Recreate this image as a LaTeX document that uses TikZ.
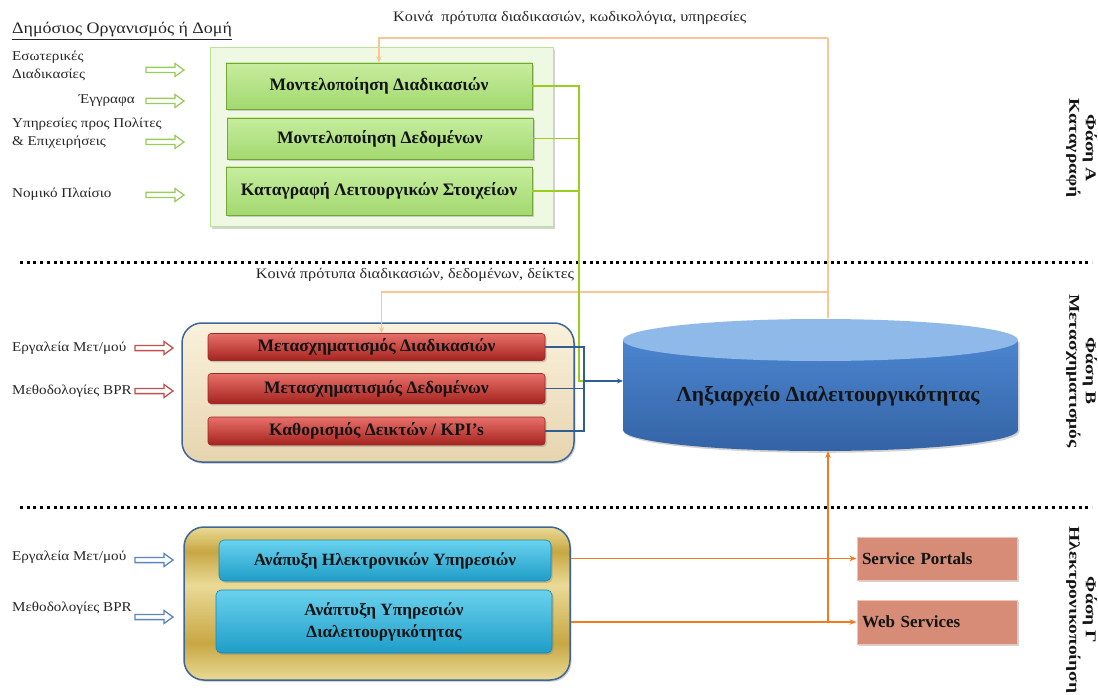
\documentclass[tikz,border=0pt]{standalone}
\usepackage{fontspec}
\setmainfont{Liberation Serif}
\newfontfamily\widefont[FakeStretch=1.12]{Liberation Serif}
\usetikzlibrary{shadows,arrows.meta,calc}

\definecolor{txt}{HTML}{262626}
\definecolor{boxtxt}{HTML}{141414}
\definecolor{gpanel}{HTML}{EEF8E2}
\definecolor{gpanelrule}{HTML}{BDE394}
\definecolor{gtop}{HTML}{C6ED9E}
\definecolor{gbot}{HTML}{A3D970}
\definecolor{grule}{HTML}{74A63A}
\definecolor{glink}{HTML}{9ACD1E}
\definecolor{garrow}{HTML}{9BCB5B}
\definecolor{peach}{HTML}{FBC494}
\definecolor{btop}{HTML}{FAF1DC}
\definecolor{bbot}{HTML}{E6D4AE}
\definecolor{navy}{HTML}{3E6596}
\definecolor{blink}{HTML}{2F5D95}
\definecolor{rtop}{HTML}{E8706A}
\definecolor{rmid}{HTML}{D23C36}
\definecolor{rbot}{HTML}{A5231F}
\definecolor{rrule}{HTML}{9A2A26}
\definecolor{rarrow}{HTML}{C0504D}
\definecolor{barrow}{HTML}{5A86C0}
\definecolor{goldlt}{HTML}{E9DA96}
\definecolor{golddk}{HTML}{C8A743}
\definecolor{ctop}{HTML}{6AD2EE}
\definecolor{cbot}{HTML}{1E9DC8}
\definecolor{crule}{HTML}{1889B2}
\definecolor{salmon}{HTML}{D68C77}
\definecolor{salmonrule}{HTML}{F1C3B3}
\definecolor{cylA}{HTML}{4B85CF}
\definecolor{cylB}{HTML}{3463A5}
\definecolor{cyltop}{HTML}{8FB9E9}
\definecolor{olink}{HTML}{F47A22}

\pgfdeclareverticalshading{goldband}{100bp}{%
  color(0bp)=(goldlt); color(25bp)=(goldlt); color(37bp)=(golddk);
  color(56bp)=(goldlt); color(67bp)=(golddk); color(75bp)=(goldlt);
  color(100bp)=(goldlt)}

\tikzset{
  lab/.style={font=\widefont\fontsize{13.5}{18}\selectfont, text=txt, inner sep=0pt, align=left},
  toplab/.style={font=\widefont\fontsize{14.5}{18}\selectfont, text=txt, inner sep=0pt},
  shade/.style={drop shadow={opacity=0.35, shadow xshift=1.5pt, shadow yshift=-1.8pt}},
  boxfont/.style={font=\bfseries\fontsize{17.5}{21}\selectfont},
  gbox/.style={shade, draw=grule, line width=0.9pt, top color=gtop, bottom color=gbot,
    minimum width=306pt, text=boxtxt, boxfont},
  rbox/.style={shade, draw=rrule, line width=0.6pt, rounded corners=3pt,
    top color=rtop, middle color=rmid, bottom color=rbot,
    minimum width=337pt, text=boxtxt, boxfont},
  cbox/.style={shade, draw=crule, line width=0.6pt, rounded corners=5pt,
    top color=ctop, bottom color=cbot, text=boxtxt, align=center,
    font=\bfseries\fontsize{17.2}{22}\selectfont},
  sbox/.style={shade, draw=salmonrule, line width=1pt, fill=salmon,
    minimum width=160pt, text width=150pt, align=left, inner xsep=5pt,
    text=boxtxt, font=\bfseries\fontsize{17}{19}\selectfont},
  phase/.style={rotate=-90, inner sep=0pt, text=boxtxt,
    font=\bfseries\fontsize{15}{16.5}\selectfont},
  sep/.style={line width=3pt, dash pattern=on 3pt off 3.7pt, black},
  plink/.style={peach, line width=1.6pt, -{Stealth[length=6pt,width=5pt]}},
  gl/.style={glink, line width=1.6pt},
  bl/.style={blink, line width=1.3pt},
  ol/.style={olink, line width=1.6pt, -{Stealth[length=7pt,width=5.5pt]}},
  harrow/.pic={\draw[line width=1.3pt, fill=white, line join=miter]
    (0,-2.6) -- (29,-2.6) -- (29,-6.5) -- (38,0) -- (29,6.5) -- (29,2.6) -- (0,2.6) -- cycle;}
}

\begin{document}
\begin{tikzpicture}[x=1pt,y=-1pt]
\useasboundingbox (0,0) rectangle (1098,695);
\begin{scope}
\clip (0,0) rectangle (1098,695);

% ---------- phase separators
\draw[sep] (20,263) -- (1092,263);
\draw[sep] (20,507) -- (1092,507);

% ---------- phase A: recording
\node[lab, anchor=west, font=\widefont\fontsize{16}{19}\selectfont] (title) at (12,31)
  {\underline{Δημόσιος Οργανισμός ή Δομή}};
\node[lab, anchor=west] (inA1) at (12,66) {Εσωτερικές\\Διαδικασίες};
\node[lab, anchor=east] (inA2) at (135,101) {Έγγραφα};
\node[lab, anchor=west] (inA3) at (12,133) {Υπηρεσίες προς Πολίτες\\\& Επιχειρήσεις};
\node[lab, anchor=west] (inA4) at (12,194) {Νομικό Πλαίσιο};
\pic[garrow] at (146,70) {harrow};
\pic[garrow] at (146,101) {harrow};
\pic[garrow] at (146,142) {harrow};
\pic[garrow] at (146,195) {harrow};

\node[shade, draw=gpanelrule, line width=1pt, fill=gpanel,
  minimum width=343pt, minimum height=179pt] (gout) at (381.5,137.5) {};
\node[gbox, minimum height=46pt] (gm1) at (379,86) {Μοντελοποίηση Διαδικασιών};
\node[gbox, minimum height=41pt] (gm2) at (380,138.5) {Μοντελοποίηση Δεδομένων};
\node[gbox, minimum height=48pt] (gm3) at (379,191) {Καταγραφή Λειτουργικών Στοιχείων};

\node[toplab, anchor=west] (stdA) at (393,18) {Κοινά\ \ πρότυπα διαδικασιών, κωδικολόγια, υπηρεσίες};

\node[phase] (phA) at (1081,148)
  {\scalebox{1.3}[1]{\begin{tabular}{@{}c@{}}Φάση Α\\Καταγραφή\end{tabular}}};

% ---------- phase B: transformation
\node[toplab] (stdB) at (415,275) {Κοινά πρότυπα διαδικασιών, δεδομένων, δείκτες};

\node[lab, anchor=west] (inB1) at (12,348) {Εργαλεία Μετ/μού};
\node[lab, anchor=west] (inB2) at (12,391) {Μεθοδολογίες BPR};
\pic[rarrow] at (135,348) {harrow};
\pic[rarrow] at (135,391) {harrow};

\node[shade, draw=navy, line width=1.5pt, rounded corners=20pt,
  top color=btop, bottom color=bbot,
  minimum width=392pt, minimum height=139pt] (bpanel) at (378,392.5) {};
\node[rbox, minimum height=27pt] (rm1) at (376.5,347) {Μετασχηματισμός Διαδικασιών};
\node[rbox, minimum height=30pt] (rm2) at (376.5,388.5) {Μετασχηματισμός Δεδομένων};
\node[rbox, minimum height=28pt] (rm3) at (376.5,431) {Καθορισμός Δεικτών / KPI’s};

% registry cylinder
\shade[top color=cylA, bottom color=cylB]
  (623,340) -- (623,430) arc[start angle=180, end angle=0, x radius=197.5, y radius=21]
  -- (1018,340) -- cycle;
\fill[cyltop] (820.5,340) ellipse[x radius=197.5, y radius=21];
\node[text=boxtxt, font=\bfseries\fontsize{21.5}{24}\selectfont] (reg) at (828,396)
  {Ληξιαρχείο Διαλειτουργικότητας};
\coordinate (regtop) at (828,318);
\coordinate (regbot) at (828,451);
\coordinate (regleft) at (623,381);

\node[phase] (phB) at (1081,371)
  {\scalebox{1.3}[1]{\begin{tabular}{@{}c@{}}Φάση Β\\Μετασχηματισμός\end{tabular}}};

% ---------- phase C: e-services
\node[lab, anchor=west] (inC1) at (12,557) {Εργαλεία Μετ/μού};
\node[lab, anchor=west] (inC2) at (12,608) {Μεθοδολογίες BPR};
\pic[barrow] at (135,560) {harrow};
\pic[barrow] at (135,617) {harrow};

\node[shade, draw=navy, line width=1.5pt, rounded corners=20pt, shading=goldband,
  minimum width=386pt, minimum height=153pt] (gold) at (377,603.5) {};
\node[cbox, minimum width=332pt, minimum height=41pt] (cb1) at (385,560.5)
  {Ανάπυξη Ηλεκτρονικών Υπηρεσιών};
\node[cbox, minimum width=336pt, minimum height=63pt] (cb2) at (384,621.5)
  {Ανάπτυξη Υπηρεσιών\\Διαλειτουργικότητας};

\node[sbox, minimum height=43pt] (sp) at (937,558.5) {Service Portals};
\node[sbox, minimum height=44pt] (ws) at (937,622) {Web Services};

\node[phase] (phC) at (1081,610)
  {\scalebox{1.3}[1]{\begin{tabular}{@{}c@{}}Φάση Γ\\Ηλεκτρονικοποίηση\end{tabular}}};

% ---------- connectors
\coordinate (ptop) at (828,38);
\coordinate (pmid) at (828,292);
\draw[peach, line width=1.6pt] (regtop) -- (ptop);
\draw[plink] (ptop) -| (gm1.north);
\draw[plink] (pmid) -| ([xshift=5pt]rm1.north);

\coordinate (gj) at (579,381);
\coordinate (bj) at (584,381);
\draw[gl] (gm1.east) -| (gj) -- (bj);
\draw[gl] (gm2.east) -- (gm2.east -| gj);
\draw[gl] (gm3.east) -- (gm3.east -| gj);

\draw[bl] (rm1.east) -| (rm3.east -| bj) -- (rm3.east);
\draw[bl] (rm2.east) -- (rm2.east -| bj);
\draw[bl, -{Stealth[length=6pt,width=5pt]}] (bj) -- (regleft);

\draw[ol] (gold.east |- sp.west) -- (sp.west);
\draw[ol] (gold.east |- ws.west) -- (ws.west);
\draw[ol] (regbot |- ws.west) -- (regbot);

\end{scope}
\end{tikzpicture}
\end{document}
